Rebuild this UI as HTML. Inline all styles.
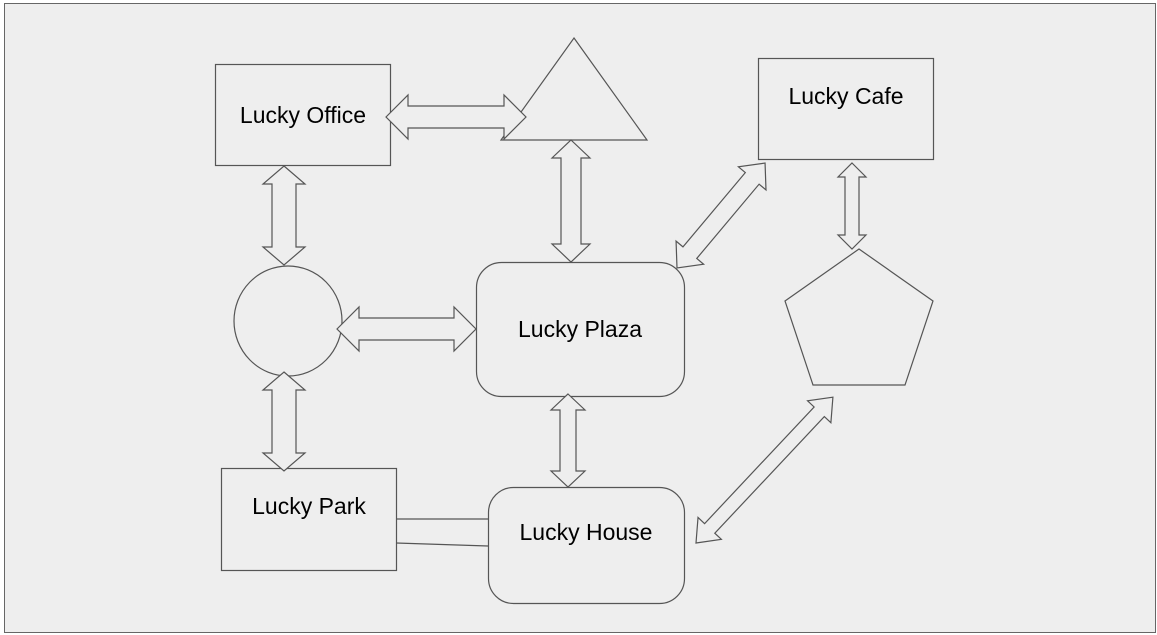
<!DOCTYPE html>
<html><head><meta charset="utf-8"><style>
html,body{margin:0;padding:0;background:#fff;}
svg{display:block;}
text{font-family:"Liberation Sans",Arial,sans-serif;font-size:23px;fill:#000;}
</style></head><body>
<svg width="1157" height="635" viewBox="0 0 1157 635" xmlns="http://www.w3.org/2000/svg">
<rect x="4.5" y="3.5" width="1151" height="629" fill="#eeeeee" stroke="#666" stroke-width="1"/>
<g fill="none" stroke="#555" stroke-width="1.2">
<rect x="215.5" y="64.5" width="175" height="101"/>
<polygon points="574,38 647,140 501,140"/>
<rect x="758.5" y="58.5" width="175" height="101"/>
<ellipse cx="288" cy="321" rx="54" ry="55"/>
<rect x="476.5" y="262.5" width="208" height="134" rx="25"/>
<polygon points="859,249 933,301 905,385 813,385 785,301"/>
<rect x="221.5" y="468.5" width="175" height="102"/>
<rect x="488.5" y="487.5" width="196" height="116" rx="25"/>
<line x1="396" y1="519" x2="488" y2="519"/>
<line x1="396" y1="543" x2="488" y2="546"/>
</g>
<g fill="#eeeeee" stroke="#555" stroke-width="1.2">
<polygon transform="translate(386,117)" points="0,0 22,-22 22,-11 118,-11 118,-22 140,0 118,22 118,11 22,11 22,22"/>
<polygon transform="translate(571,140) rotate(90)" points="0,0 18,-19 18,-10 104,-10 104,-19 122,0 104,19 104,10 18,10 18,19"/>
<polygon transform="translate(677,268) rotate(-50)" points="0,0 20,-18 20,-9 117,-9 117,-18 137,0 117,18 117,9 20,9 20,18"/>
<polygon transform="translate(852,163) rotate(90)" points="0,0 14,-14 14,-7 72,-7 72,-14 86,0 72,14 72,7 14,7 14,14"/>
<polygon transform="translate(284,166) rotate(90)" points="0,0 18,-21 18,-12 81,-12 81,-21 99,0 81,21 81,12 18,12 18,21"/>
<polygon transform="translate(337,329)" points="0,0 22,-22 22,-11 117,-11 117,-22 139,0 117,22 117,11 22,11 22,22"/>
<polygon transform="translate(284,372) rotate(90)" points="0,0 18,-21 18,-12 81,-12 81,-21 99,0 81,21 81,12 18,12 18,21"/>
<polygon transform="translate(568,394) rotate(90)" points="0,0 16,-17 16,-8 77,-8 77,-17 93,0 77,17 77,8 16,8 16,17"/>
<polygon transform="translate(696,543) rotate(-46.8)" points="0,0 20,-16 20,-7 180,-7 180,-16 200,0 180,16 180,7 20,7 20,16"/>
</g>
<text x="303" y="123" text-anchor="middle">Lucky Office</text>
<text x="846" y="104" text-anchor="middle">Lucky Cafe</text>
<text x="580" y="337" text-anchor="middle">Lucky Plaza</text>
<text x="309" y="514" text-anchor="middle">Lucky Park</text>
<text x="586" y="540" text-anchor="middle">Lucky House</text>
</svg>
</body></html>
